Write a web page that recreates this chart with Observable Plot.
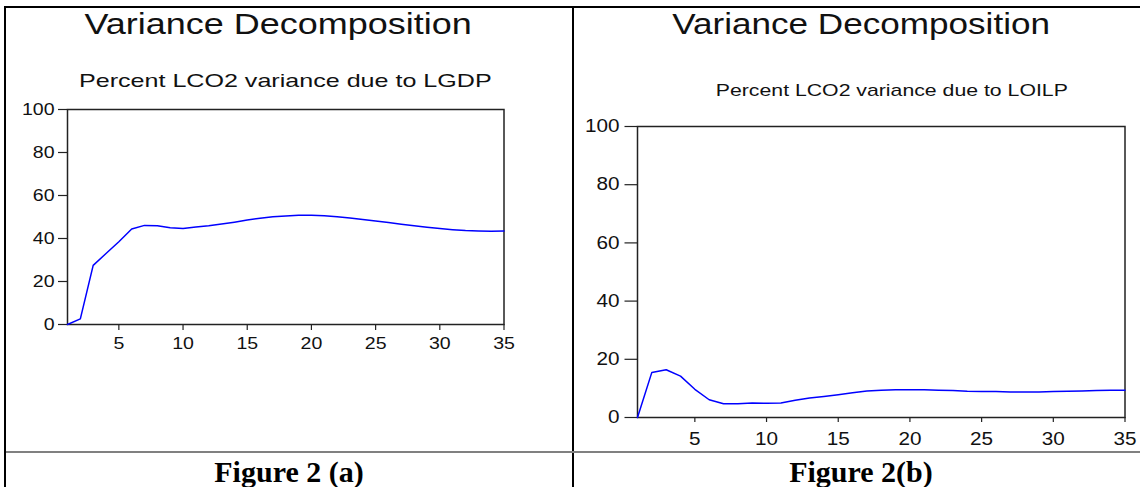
<!DOCTYPE html>
<html>
<head>
<meta charset="utf-8">
<script src="https://cdn.jsdelivr.net/npm/d3@7"></script>
<script src="https://cdn.jsdelivr.net/npm/@observablehq/plot@0.6"></script>
<style>
  body { margin: 0; background: #fff; }
  #wrap { position: relative; width: 1140px; height: 487px; background: #fff; overflow: hidden; font-family: "Liberation Sans", Arial, sans-serif; }
  .ln { position: absolute; }
  .txt { position: absolute; text-align: center; white-space: nowrap; color: #111; }
  .txt span { display: inline-block; transform-origin: 50% 50%; }
  .cap { position: absolute; text-align: center; white-space: nowrap; font-family: "Liberation Serif", "Times New Roman", serif; font-weight: bold; color: #000; }
  .chart { position: absolute; top: 0; }
</style>
</head>
<body>
<div id="wrap">
  <div class="ln" style="left:4px;top:6px;width:1136px;height:2px;background:#000"></div>
  <div class="ln" style="left:4px;top:6px;width:2px;height:481px;background:#000"></div>
  <div class="ln" style="left:572px;top:6px;width:2px;height:481px;background:#000"></div>
  <div class="ln" style="left:6px;top:451px;width:1134px;height:2px;background:#808080"></div>

  <div class="chart" id="c1" style="left:0px"></div>
  <div class="chart" id="c2" style="left:570px"></div>

  <div class="txt" style="left:78px;width:400px;top:10px;font-size:29px;line-height:29px"><span id="t1" style="transform:scaleX(1.24)"></span></div>
  <div class="txt" style="left:85px;width:400px;top:71px;font-size:19px;line-height:19px"><span id="s1" style="transform:scaleX(1.32)"></span></div>
  <div class="txt" style="left:661px;width:400px;top:10px;font-size:29px;line-height:29px"><span id="t2" style="transform:scaleX(1.21)"></span></div>
  <div class="txt" style="left:692px;width:400px;top:82px;font-size:17px;line-height:17px"><span id="s2" style="transform:scaleX(1.25)"></span></div>

  <div class="cap" id="f1" style="left:89px;width:400px;top:457px;font-size:30px;line-height:30px"></div>
  <div class="cap" id="f2" style="left:661px;width:400px;top:457px;font-size:30px;line-height:30px"></div>
</div>
<script>
// ---- data ----
const titleText = "Variance Decomposition";
const subtitleA = "Percent LCO2 variance due to LGDP";
const subtitleB = "Percent LCO2 variance due to LOILP";
const captionA = "Figure 2 (a)";
const captionB = "Figure 2(b)";

const periods = [1,2,3,4,5,6,7,8,9,10,11,12,13,14,15,16,17,18,19,20,21,22,23,24,25,26,27,28,29,30,31,32,33,34,35];
const lgdpShare = [0, 2.6, 27.5, 33, 38.5, 44.4, 46.1, 45.9, 45.0, 44.7, 45.3, 45.9, 46.7, 47.6, 48.6, 49.4, 50.1, 50.5, 50.8, 50.8, 50.6, 50.1, 49.5, 48.8, 48.1, 47.4, 46.6, 45.9, 45.2, 44.6, 44.1, 43.7, 43.5, 43.4, 43.5];
const loilpShare = [0, 15.5, 16.4, 14.2, 9.7, 6.1, 4.7, 4.7, 5.0, 4.9, 5.0, 5.9, 6.7, 7.2, 7.8, 8.5, 9.1, 9.4, 9.5, 9.5, 9.5, 9.4, 9.3, 9.0, 8.9, 8.9, 8.8, 8.8, 8.8, 8.9, 9.0, 9.1, 9.3, 9.4, 9.4];
const yTicks = [0, 20, 40, 60, 80, 100];
const xTicks = [5, 10, 15, 20, 25, 30, 35];

document.getElementById("t1").textContent = titleText;
document.getElementById("t2").textContent = titleText;
document.getElementById("s1").textContent = subtitleA;
document.getElementById("s2").textContent = subtitleB;
document.getElementById("f1").textContent = captionA;
document.getElementById("f2").textContent = captionB;

function chart(values, o) {
  const data = periods.map((p, i) => ({p, v: values[i]}));
  return Plot.plot({
    width: 570,
    height: 450,
    marginLeft: o.ml,
    marginRight: o.mr,
    marginTop: o.mt,
    marginBottom: o.mb,
    style: {fontFamily: '"Liberation Sans", Arial, sans-serif', fontSize: o.fs + "px", color: "#111", background: "transparent", overflow: "visible"},
    x: {domain: [1, 35], label: null},
    y: {domain: [0, 100], label: null},
    marks: [
      Plot.axisX({ticks: xTicks, tickSize: o.xts, tickPadding: o.xtp, label: null, stroke: "#222", strokeWidth: 1.2, fontSize: o.fs, fill: "#111"}),
      Plot.axisY({ticks: yTicks, tickSize: o.yts, tickPadding: o.ytp, label: null, stroke: "#222", strokeWidth: 1.2, fontSize: o.fs, fill: "#111"}),
      Plot.frame({stroke: "#222", strokeWidth: 1.5}),
      Plot.line(data, {x: "p", y: "v", stroke: "#0000ff", strokeWidth: 1.5})
    ]
  });
}

function stretchTicks(svg, k) {
  svg.querySelectorAll('g[aria-label$="tick label"] text').forEach(t => {
    const len = t.getComputedTextLength();
    if (len > 0) {
      t.setAttribute("textLength", (len * k).toFixed(2));
      t.setAttribute("lengthAdjust", "spacingAndGlyphs");
    }
  });
}

const svg1 = chart(lgdpShare, {ml: 67, mr: 66.5, mt: 109, mb: 126, fs: 16, xts: 6, xtp: 7, yts: 9, ytp: 4});
document.getElementById("c1").appendChild(svg1);
stretchTicks(svg1, 1.22);

const svg2 = chart(loilpShare, {ml: 67, mr: 15.5, mt: 126, mb: 33, fs: 18, xts: 5, xtp: 10, yts: 12.5, ytp: 5.5});
document.getElementById("c2").appendChild(svg2);
stretchTicks(svg2, 1.15);
</script>
</body>
</html>
